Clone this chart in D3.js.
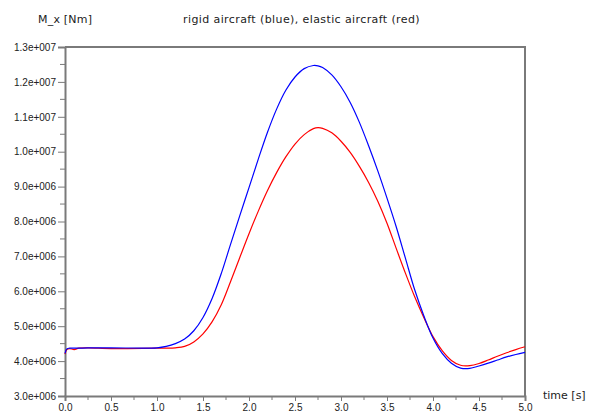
<!DOCTYPE html>
<html>
<head>
<meta charset="utf-8">
<script src="https://cdn.jsdelivr.net/npm/d3@7"></script>
<style>
  body { margin: 0; background: #fff; }
  text { font-family: "Liberation Sans", Arial, sans-serif; fill: #222; }
  .lbl { font-family: "DejaVu Sans", sans-serif; font-size: 11px; }
</style>
</head>
<body>
<script>
// time axis [s]
var time = [0, 0.02, 0.05, 0.1, 0.15, 0.25, 0.5, 1.0, 1.1, 1.2, 1.3, 1.4, 1.5, 1.6, 1.7, 1.8, 1.9, 2.0,
            2.1, 2.2, 2.3, 2.4, 2.5, 2.6, 2.7, 2.75, 2.8, 2.9, 3.0, 3.1, 3.2, 3.3, 3.4, 3.5, 3.6, 3.7,
            3.8, 3.9, 4.0, 4.1, 4.2, 4.3, 4.4, 4.5, 4.6, 4.7, 4.8, 4.9, 5.0];
// rigid aircraft M_x (1e6 Nm)
var rigid = [4.22, 4.35, 4.37, 4.37, 4.37, 4.38, 4.38, 4.38, 4.42, 4.50, 4.63, 4.87, 5.25, 5.80, 6.52, 7.35, 8.17, 8.97,
             9.78, 10.55, 11.22, 11.76, 12.14, 12.38, 12.47, 12.46, 12.41, 12.2, 11.86, 11.41, 10.84, 10.17, 9.45, 8.67, 7.85, 6.95,
             6.05, 5.3, 4.66, 4.22, 3.94, 3.8, 3.79, 3.86, 3.94, 4.03, 4.12, 4.19, 4.25];
// elastic aircraft M_x (1e6 Nm)
var elastic = [4.2, 4.33, 4.36, 4.33, 4.37, 4.38, 4.36, 4.37, 4.37, 4.38, 4.42, 4.55, 4.78, 5.13, 5.62, 6.28, 6.97, 7.65,
               8.29, 8.88, 9.4, 9.85, 10.22, 10.49, 10.66, 10.69, 10.67, 10.54, 10.3, 9.98, 9.58, 9.12, 8.58, 7.95, 7.23, 6.52,
               5.85, 5.25, 4.7, 4.3, 4.02, 3.88, 3.87, 3.93, 4.03, 4.14, 4.24, 4.33, 4.41];
var xTicks = [0, 0.5, 1.0, 1.5, 2.0, 2.5, 3.0, 3.5, 4.0, 4.5, 5.0];
var yTicks = [3e6, 4e6, 5e6, 6e6, 7e6, 8e6, 9e6, 1e7, 1.1e7, 1.2e7, 1.3e7];
var yTickLabels = ["3.0e+006", "4.0e+006", "5.0e+006", "6.0e+006", "7.0e+006", "8.0e+006",
                   "9.0e+006", "1.0e+007", "1.1e+007", "1.2e+007", "1.3e+007"];

var W = 594, H = 419;
var margin = {top: 47, right: 69, bottom: 23, left: 65};

var svg = d3.select("body").append("svg").attr("width", W).attr("height", H);

var x = d3.scaleLinear().domain([0, 5]).range([margin.left, W - margin.right]);
var y = d3.scaleLinear().domain([3e6, 1.3e7]).range([H - margin.bottom, margin.top]);

var axisColor = "#7a7a7a";

// frame (top and right)
svg.append("path")
  .attr("d", "M" + x(0) + "," + y(1.3e7) + "H" + x(5) + "V" + y(3e6))
  .attr("fill", "none").attr("stroke", axisColor).attr("stroke-width", 2);

// minor ticks
var xMinor = d3.range(0.25, 5, 0.5);
var yMinor = d3.range(3.5e6, 1.3e7, 1e6);

var gx = svg.append("g").attr("transform", "translate(0," + y(3e6) + ")");
gx.call(d3.axisBottom(x).tickValues(xTicks).tickFormat(d3.format(".1f")).tickSize(5).tickPadding(3));
gx.selectAll("line.minor").data(xMinor).enter().append("line")
  .attr("x1", function(d) { return x(d); }).attr("x2", function(d) { return x(d); })
  .attr("y1", 0).attr("y2", 4).attr("stroke", axisColor);

var gy = svg.append("g").attr("transform", "translate(" + x(0) + ",0)");
gy.call(d3.axisLeft(y).tickValues(yTicks).tickFormat(function(d, i) { return yTickLabels[i]; }).tickSize(7).tickPadding(2));
gy.selectAll("line.minor").data(yMinor).enter().append("line")
  .attr("y1", function(d) { return y(d); }).attr("y2", function(d) { return y(d); })
  .attr("x1", -5).attr("x2", 0).attr("stroke", axisColor);

svg.selectAll(".domain").attr("stroke", axisColor).attr("stroke-width", 2);
svg.selectAll(".tick line").attr("stroke", axisColor);
svg.selectAll(".tick text").style("font-size", "10px").attr("fill", "#222");

// curves
var line = function(vals) {
  return d3.line()
    .x(function(d, i) { return x(time[i]); })
    .y(function(d) { return y(d * 1e6); })
    .curve(d3.curveCatmullRom.alpha(0.5))(vals);
};
svg.append("path").attr("d", line(elastic)).attr("fill", "none").attr("stroke", "#ff0000").attr("stroke-width", 1.2);
svg.append("path").attr("d", line(rigid)).attr("fill", "none").attr("stroke", "#0000ff").attr("stroke-width", 1.2);

// labels
svg.append("text").attr("class", "lbl").attr("x", 38).attr("y", 23).style("letter-spacing", "0.2px").text("M_x [Nm]");
svg.append("text").attr("class", "lbl").attr("x", 183).attr("y", 23).style("letter-spacing", "0.4px").text("rigid aircraft (blue), elastic aircraft (red)");
svg.append("text").attr("class", "lbl").attr("x", 543).attr("y", 399).text("time [s]");
</script>
</body>
</html>
